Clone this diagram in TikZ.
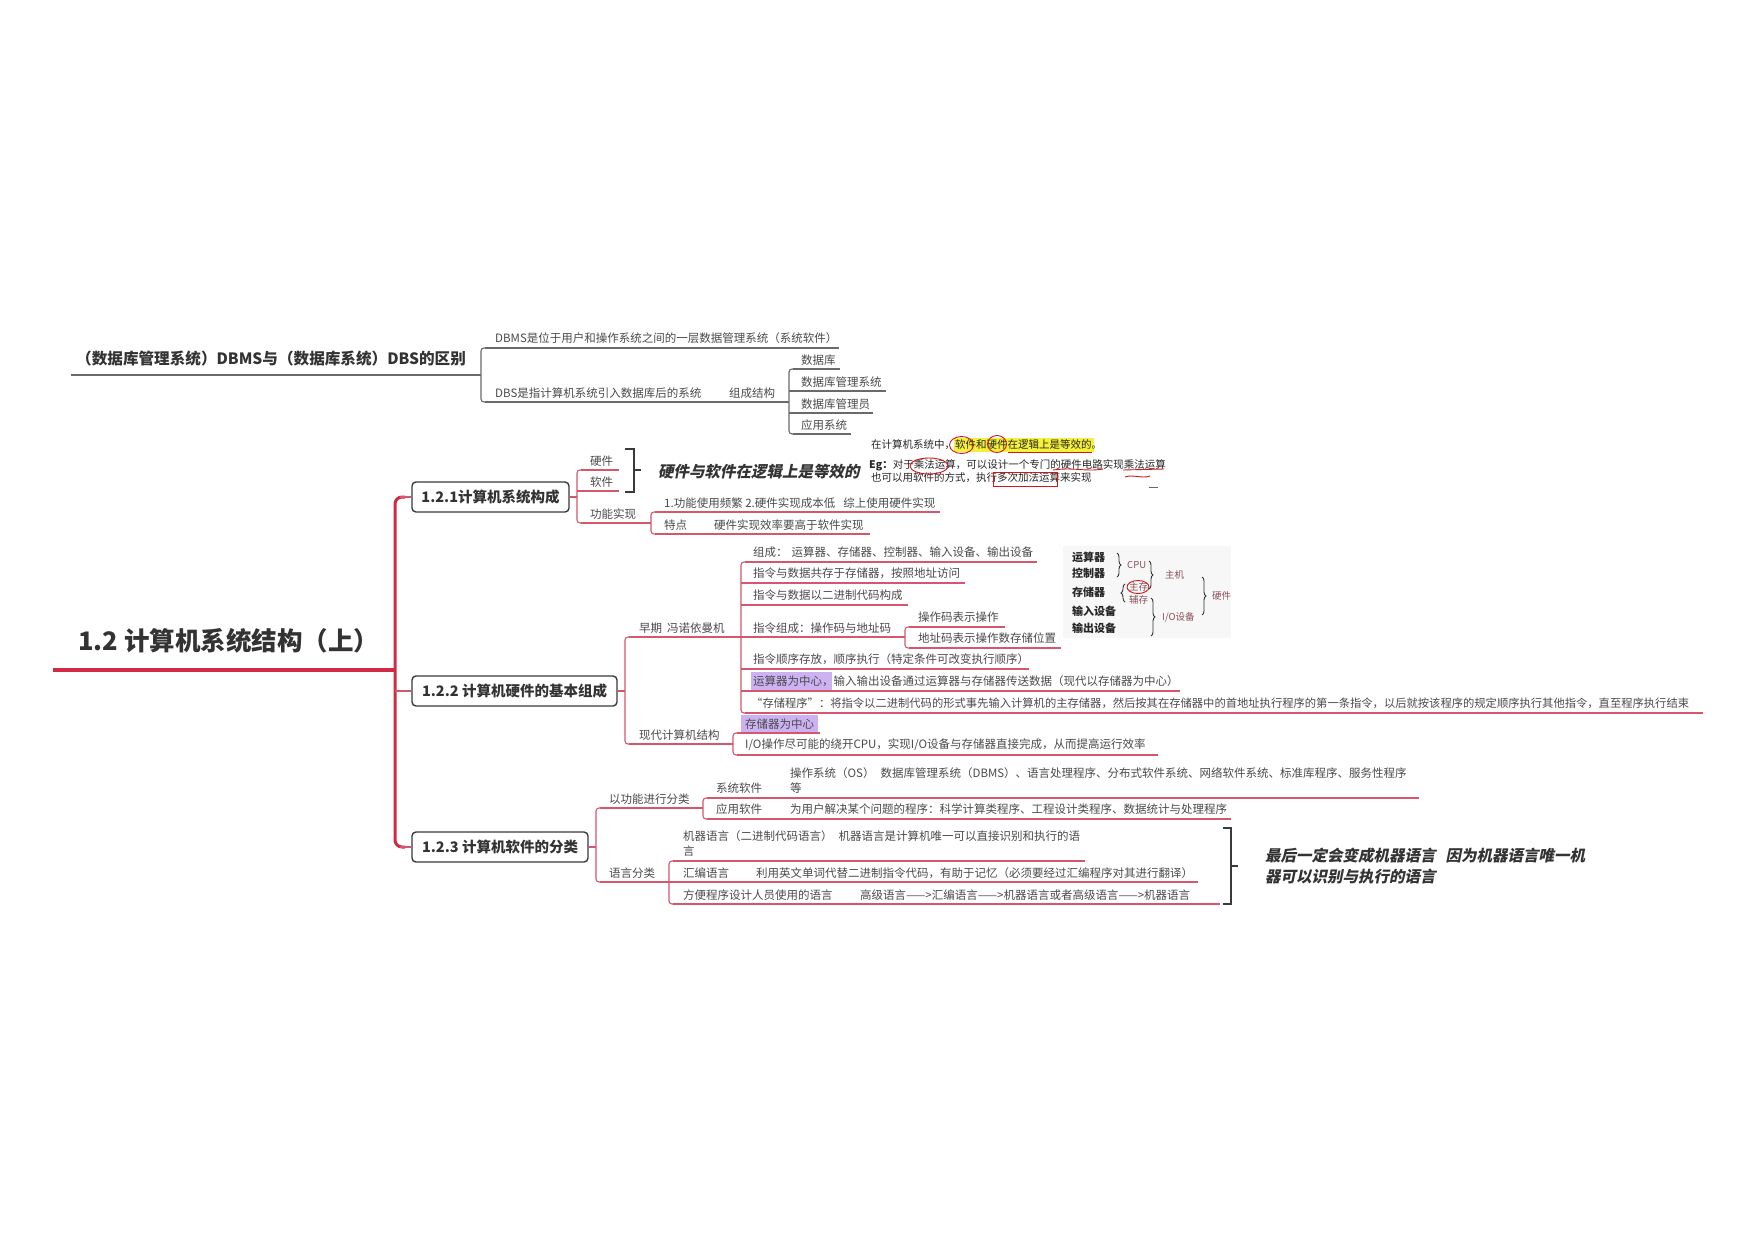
\documentclass[tikz,border=0pt]{standalone}
\usepackage{fontspec}
\setmainfont{Noto Sans CJK SC}
\newfontfamily\slfont{Noto Sans CJK SC}[FakeSlant=0.2]
\usetikzlibrary{decorations.pathreplacing}
\definecolor{txt}{HTML}{4A4A4A}
\definecolor{ttl}{HTML}{333333}
\definecolor{gline}{HTML}{6A6A6A}
\definecolor{rline}{HTML}{D4576D}
\definecolor{rmain}{HTML}{D02A44}
\definecolor{boxc}{HTML}{3A3A3A}
\definecolor{hlp}{HTML}{CDB2F2}
\definecolor{annred}{HTML}{D01818}
\definecolor{hwc}{HTML}{8C4F58}
\definecolor{hly}{HTML}{F5F03A}
\begin{document}
\begin{tikzpicture}[x=1pt,y=-1pt,
  t/.style={anchor=west, inner sep=0pt, text=txt, font=\fontsize{11.5}{15}\selectfont},
  gl/.style={draw=gline, line width=1.1pt, rounded corners=3pt},
  rl/.style={draw=rline, line width=1.1pt, rounded corners=3pt},
  topic/.style={draw=boxc, line width=1.4pt, rounded corners=4pt, fill=white, text=ttl, font=\bfseries\fontsize{14.5}{17}\selectfont, minimum height=30pt, inner xsep=6pt},
  sc/.style={anchor=west, inner sep=0pt, text=black!85, font=\fontsize{10.5}{12}\selectfont},
  hw/.style={anchor=west, inner sep=0pt, text=black!85, font=\bfseries\fontsize{11}{13}\selectfont},
  hl/.style={anchor=west, inner sep=0pt, text=hwc, font=\fontsize{9.5}{11}\selectfont},
  ann/.style={draw=annred, line width=0.9pt},
  brk/.style={draw=boxc, line width=2.6pt},
  brc/.style={draw=black!80, line width=0.9pt, decorate, decoration={brace, amplitude=4pt}},
  bi/.style={anchor=west, inner sep=0pt, text=ttl, font=\slfont\bfseries\fontsize{15.5}{21}\selectfont}
]
\fill[white] (0,0) rectangle (1755,1240);
\useasboundingbox (0,0) rectangle (1755,1240);

% ---------------- DBMS vs DBS ----------------
\node[t, text=ttl, font=\bfseries\fontsize{15.6}{19}\selectfont] (dbsT) at (76,359) {（数据库管理系统）DBMS与（数据库系统）DBS的区别};
\draw[draw=gline, line width=2pt] (71,375) -- (481,375);
\draw[gl] (491,348) -- (481,348) -- (481,402) -- (491,402);
\node[t] (dbms) at (495,338) {DBMS是位于用户和操作系统之间的一层数据管理系统（系统软件）};
\draw[gl] (485,348) -- (839,348);
\node[t] (dbs) at (495,393) {DBS是指计算机系统引入数据库后的系统};
\node[t] (zc) at (729,393) {组成结构};
\draw[gl] (485,402) -- (789,402);
\draw[gl] (799,369) -- (789,369) -- (789,434) -- (799,434);
\node[t] (k1) at (801,360) {数据库}; \draw[gl] (793,369) -- (840,369);
\node[t] (k2) at (801,382) {数据库管理系统}; \draw[gl] (789,391) -- (886,391);
\node[t] (k3) at (801,404) {数据库管理员}; \draw[gl] (789,413) -- (873,413);
\node[t] (k4) at (801,425) {应用系统}; \draw[gl] (793,434) -- (851,434);

% ---------------- main title and trunk ----------------
\node[anchor=west, inner sep=0pt, text=ttl, font=\bfseries\fontsize{25.5}{30}\selectfont] (main) at (78,641) {1.2 计算机系统结构（上）};
\draw[draw=rmain, line width=3.5pt] (53,670) -- (395,670);
\draw[draw=rmain, line width=3pt, rounded corners=7pt] (405,497) -- (395,497) -- (395,847) -- (405,847);

\node[topic, minimum width=157pt] (b1) at (490.5,497) {1.2.1计算机系统构成};
\node[topic, minimum width=205pt] (b2) at (514.5,691) {1.2.2 计算机硬件的基本组成};
\node[topic, minimum width=176pt] (b3) at (500,847) {1.2.3 计算机软件的分类};
\draw[rl] (400,497) -- (b1.west);
\draw[rl] (395,691) -- (b2.west);
\draw[rl] (400,847) -- (b3.west);

% ---------------- 1.2.1 ----------------
\draw[rl] (b1.east) -- (577,497);
\draw[rl] (586,470) -- (577,470) -- (577,523) -- (586,523);
\node[t] (hw) at (590,461) {硬件}; \draw[rl] (581,470) -- (619,470);
\node[t] (sw) at (590,482) {软件}; \draw[rl] (577,491) -- (619,491);
\node[t] (gn) at (590,514) {功能实现}; \draw[rl] (581,523) -- (651,523);
\draw[rl] (660,512) -- (651,512) -- (651,534) -- (660,534);
\node[t] (gn1) at (664,503) {1.功能使用频繁 2.硬件实现成本低\hspace{8pt}综上使用硬件实现};
\draw[rl] (655,512) -- (940,512);
\node[t] (gn2) at (664,525) {特点};
\node[t] (gn2b) at (714,525) {硬件实现效率要高于软件实现};
\draw[rl] (655,534) -- (870,534);
\draw[brk] (625,449) -- (634,449) -- (634,492) -- (625,492);
\draw[brk] (634,470) -- (641,470);
\node[bi] (eq) at (658,472) {硬件与软件在逻辑上是等效的};

% screenshot inset
\fill[hly] (954,438) rectangle (1094,452);
\node[sc] (sc1) at (871,445) {在计算机系统中，软件和硬件在逻辑上是等效的。};
\node[sc] (sc2) at (869,465) {\textbf{Eg：}对于乘法运算，可以设计一个专门的硬件电路实现乘法运算};
\node[sc] (sc3) at (871,478) {也可以用软件的方式，执行多次加法运算来实现};
\draw[ann] (961.5,445) ellipse [x radius=12pt, y radius=8.5pt];
\draw[ann] (997,444) ellipse [x radius=9.5pt, y radius=8.5pt];
\draw[ann] (1008,452.5) -- (1092,452.5);
\draw[ann] (929,466) ellipse [x radius=19pt, y radius=8pt];
\draw[ann] (1053,470) .. controls (1075,467) and (1085,472) .. (1103,469);
\draw[ann] (1123,470) -- (1164,469);
\draw[ann] (1125,477) .. controls (1133,474) and (1142,479) .. (1150,476);
\draw[ann] (993,472) rectangle (1057,486);
\draw[draw=black!60, line width=0.6pt] (1149,487) -- (1158,487);

% ---------------- 1.2.2 ----------------
\draw[rl] (b2.east) -- (625,691);
\draw[rl] (635,637) -- (625,637) -- (625,744) -- (635,744);
\node[t] (early) at (639,628) {早期\hspace{5pt}冯诺依曼机};
\draw[rl] (629,637) -- (905,637);
\draw[rl] (751,562) -- (741,562) -- (741,713) -- (751,713);
\node[t] (e1) at (753,552) {组成：\hspace{4pt}运算器、存储器、控制器、输入设备、输出设备};
\draw[rl] (745,562) -- (1037,562);
\node[t] (e2) at (753,573) {指令与数据共存于存储器，按照地址访问};
\draw[rl] (741,583) -- (965,583);
\node[t] (e3) at (753,595) {指令与数据以二进制代码构成};
\draw[rl] (741,605) -- (908,605);
\node[t] (e4) at (753,628) {指令组成：操作码与地址码};
\draw[rl] (915,627) -- (905,627) -- (905,648) -- (915,648);
\node[t] (e41) at (918,617) {操作码表示操作}; \draw[rl] (909,627) -- (1005,627);
\node[t] (e42) at (918,638) {地址码表示操作数存储位置}; \draw[rl] (909,648) -- (1061,648);
\node[t] (e5) at (753,659) {指令顺序存放，顺序执行（特定条件可改变执行顺序）};
\draw[rl] (741,669) -- (1029,669);
\fill[hlp] (751,672) rectangle (832,690);
\node[t] (e6) at (753,681) {运算器为中心，输入输出设备通过运算器与存储器传送数据（现代以存储器为中心）};
\draw[rl] (741,691) -- (1180,691);
\node[t, font=\fontsize{11.3}{15}\selectfont] (e7) at (751,703) {“存储程序”：将指令以二进制代码的形式事先输入计算机的主存储器，然后按其在存储器中的首地址执行程序的第一条指令，以后就按该程序的规定顺序执行其他指令，直至程序执行结束};
\draw[rl] (745,713) -- (1703,713);

\node[t] (mod) at (639,735) {现代计算机结构};
\draw[rl] (629,744) -- (733,744);
\draw[rl] (742,733) -- (733,733) -- (733,755) -- (742,755);
\fill[hlp] (741,715) rectangle (818,733);
\node[t] (m1) at (745,724) {存储器为中心}; \draw[rl] (737,733) -- (820,733);
\node[t] (m2) at (745,745) {I/O操作尽可能的绕开CPU，实现I/O设备与存储器直接完成，从而提高运行效率};
\draw[rl] (737,755) -- (1158,755);

% hardware figure
\fill[black!3] (1063,546) rectangle (1231,638);
\node[hw] (h1) at (1072,557) {运算器};
\node[hw] (h2) at (1072,573) {控制器};
\node[hw] (h3) at (1072,592) {存储器};
\node[hw] (h4) at (1072,611) {输入设备};
\node[hw] (h5) at (1072,628) {输出设备};
\draw[brc] (1117,553) -- (1117,577);
\node[hl] (cpu) at (1127,565) {CPU};
\draw[brc] (1149,561) -- (1149,589);
\node[hl] (zj) at (1165,575) {主机};
\draw[brc] (1125,602) -- (1125,584);
\node[hl] (zc1) at (1129,587) {主存};
\draw[ann] (1138,587) ellipse [x radius=11pt, y radius=6.5pt];
\node[hl] (fc) at (1129,600) {辅存};
\draw[brc] (1151,598) -- (1151,636);
\node[hl] (io) at (1162,617) {I/O设备};
\draw[brc] (1202,577) -- (1202,615);
\node[hl] (yj) at (1212,596) {硬件};

% ---------------- 1.2.3 ----------------
\draw[rl] (b3.east) -- (596,847);
\draw[rl] (606,808) -- (596,808) -- (596,882) -- (606,882);
\node[t] (fn) at (609,799) {以功能进行分类}; \draw[rl] (600,808) -- (703,808);
\draw[rl] (712,798) -- (703,798) -- (703,819) -- (712,819);
\node[t] (s1) at (716,788) {系统软件};
\node[t, align=left] (s1d) at (790,780.5) {操作系统（OS）\hspace{6pt}数据库管理系统（DBMS）、语言处理程序、分布式软件系统、网络软件系统、标准库程序、服务性程序\\等};
\draw[rl] (707,798) -- (1419,798);
\node[t] (s2) at (716,809) {应用软件};
\node[t] (s2d) at (790,809) {为用户解决某个问题的程序：科学计算类程序、工程设计类程序、数据统计与处理程序};
\draw[rl] (707,819) -- (1231,819);
\node[t] (lang) at (609,873) {语言分类}; \draw[rl] (600,882) -- (669,882);
\draw[rl] (678,861) -- (669,861) -- (669,904) -- (678,904);
\node[t, align=left] (l1) at (683,844) {机器语言（二进制代码语言）\hspace{6pt}机器语言是计算机唯一可以直接识别和执行的语\\言};
\draw[rl] (673,861) -- (1085,861);
\node[t] (l2) at (683,873) {汇编语言};
\node[t] (l2b) at (756,873) {利用英文单词代替二进制指令代码，有助于记忆（必须要经过汇编程序对其进行翻译）};
\draw[rl] (669,882) -- (1198,882);
\node[t] (l3) at (683,895) {方便程序设计人员使用的语言};
\node[t] (l3b) at (860,895) {高级语言——>汇编语言——>机器语言或者高级语言——>机器语言};
\draw[rl] (673,904) -- (1220,904);
\draw[brk] (1223,828) -- (1231,828) -- (1231,904) -- (1223,904);
\draw[brk] (1231,866) -- (1238,866);
\node[bi, align=left] (last) at (1265,866) {最后一定会变成机器语言\hspace{10pt}因为机器语言唯一机\\器可以识别与执行的语言};
\end{tikzpicture}
\end{document}
